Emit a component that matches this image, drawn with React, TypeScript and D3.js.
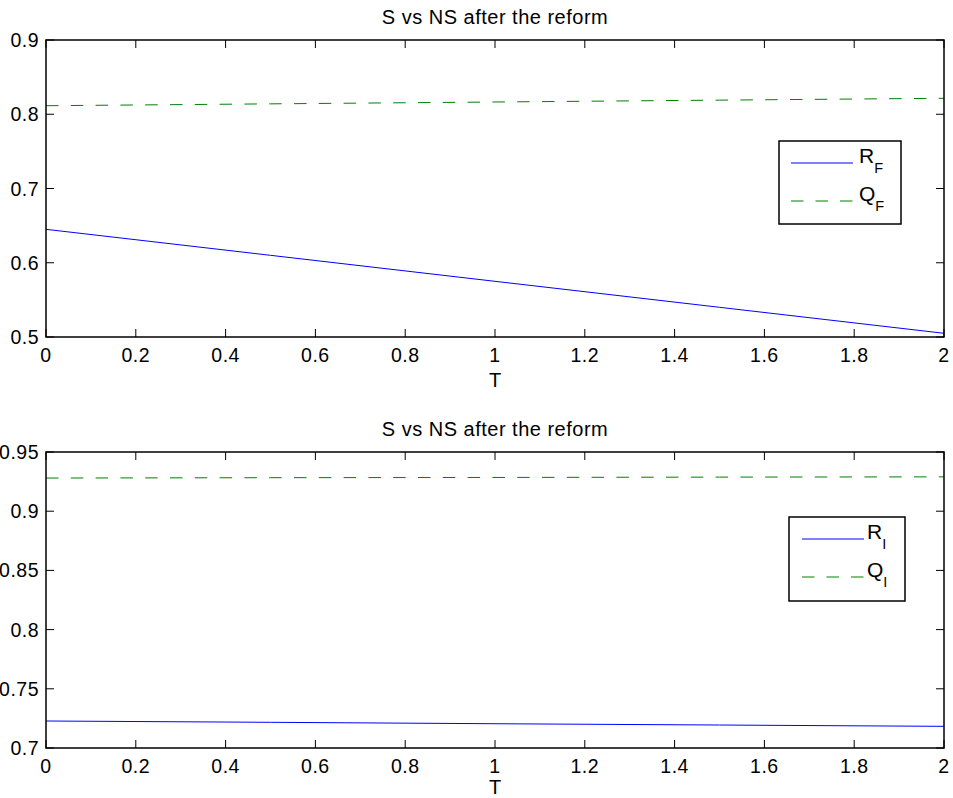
import React from "react";
import * as d3 from "d3";

const T = [0, 0.5, 1, 1.5, 2];
const R_F = [0.645, 0.61, 0.575, 0.54, 0.505];
const Q_F = [0.8115, 0.814, 0.8165, 0.819, 0.8215];
const R_I = [0.7228, 0.7217, 0.7205, 0.7194, 0.7183];
const Q_I = [0.928, 0.9283, 0.9285, 0.9288, 0.929];

const xTicks = [0, 0.2, 0.4, 0.6, 0.8, 1, 1.2, 1.4, 1.6, 1.8, 2];
const yTicksTop = [0.5, 0.6, 0.7, 0.8, 0.9];
const yTicksBottom = [0.7, 0.75, 0.8, 0.85, 0.9, 0.95];
const title = "S vs NS after the reform";
const xLabel = "T";

const FONT = "'Liberation Sans', Arial, Helvetica, sans-serif";
const BLUE = "#0000ff";
const GREEN = "#008000";

const fmt = (d: number) => String(Math.round(d * 100) / 100);

type PanelProps = {
  top: number;
  bottom: number;
  yDomain: [number, number];
  yTicks: number[];
  r: number[];
  q: number[];
  sub: string;
  xLabelDy: number;
  legend: { x0: number; y0: number; x1: number; y1: number; lx0: number; lx1: number; ry: number; qy: number; tx: number };
};

function Panel({ top, bottom, yDomain, yTicks, r, q, sub, xLabelDy, legend }: PanelProps) {
  const left = 46;
  const right = 944;
  const x = d3.scaleLinear().domain([0, 2]).range([left, right]);
  const y = d3.scaleLinear().domain(yDomain).range([bottom, top]);
  const line = d3
    .line<number>()
    .x((_, i) => x(T[i]))
    .y((d) => y(d));
  const tl = 8;
  return (
    <g>
      <rect x={left} y={top} width={right - left} height={bottom - top} fill="white" />
      {xTicks.map((t) => (
        <g key={"x" + t}>
          <line x1={x(t)} x2={x(t)} y1={bottom} y2={bottom - tl} stroke="black" strokeWidth={1} />
          <line x1={x(t)} x2={x(t)} y1={top} y2={top + tl} stroke="black" strokeWidth={1} />
          <text x={x(t)} y={bottom + 25} textAnchor="middle" fontSize={19.5} letterSpacing={0.5} fontFamily={FONT}>
            {fmt(t)}
          </text>
        </g>
      ))}
      {yTicks.map((t) => (
        <g key={"y" + t}>
          <line x1={left} x2={left + tl} y1={y(t)} y2={y(t)} stroke="black" strokeWidth={1} />
          <line x1={right} x2={right - tl} y1={y(t)} y2={y(t)} stroke="black" strokeWidth={1} />
          <text x={39} y={y(t) + 7} textAnchor="end" fontSize={19.5} letterSpacing={0.5} fontFamily={FONT}>
            {fmt(t)}
          </text>
        </g>
      ))}
      <path d={line(q) || ""} fill="none" stroke={GREEN} strokeWidth={1} strokeDasharray="12.5,12.3" />
      <path d={line(r) || ""} fill="none" stroke={BLUE} strokeWidth={1} />
      <rect x={left} y={top} width={right - left} height={bottom - top} fill="none" stroke="black" strokeWidth={1.5} />
      <text x={(left + right) / 2} y={top - 16} textAnchor="middle" fontSize={20} letterSpacing={0.5} fontFamily={FONT}>
        {title}
      </text>
      <text x={(left + right) / 2} y={bottom + xLabelDy} textAnchor="middle" fontSize={20} fontFamily={FONT}>
        {xLabel}
      </text>
      <rect
        x={legend.x0}
        y={legend.y0}
        width={legend.x1 - legend.x0}
        height={legend.y1 - legend.y0}
        fill="white"
        stroke="black"
        strokeWidth={1.5}
      />
      <line x1={legend.lx0} x2={legend.lx1} y1={legend.ry} y2={legend.ry} stroke={BLUE} strokeWidth={1} />
      <line
        x1={legend.lx0}
        x2={legend.lx1}
        y1={legend.qy}
        y2={legend.qy}
        stroke={GREEN}
        strokeWidth={1}
        strokeDasharray="12.5,12"
      />
      <text x={legend.tx} y={legend.ry} fontSize={21} fontFamily={FONT}>
        R
        <tspan fontSize={14.5} dy={10}>
          {sub}
        </tspan>
      </text>
      <text x={legend.tx} y={legend.qy} fontSize={21} fontFamily={FONT}>
        Q
        <tspan fontSize={14.5} dy={10}>
          {sub}
        </tspan>
      </text>
    </g>
  );
}

export default function App() {
  return (
    <svg
      width={953}
      height={798}
      style={{ position: "absolute", left: 0, top: 0, background: "white" }}
    >
      <rect x={0} y={0} width={953} height={798} fill="white" />
      <Panel
        top={40}
        bottom={337}
        yDomain={[0.5, 0.9]}
        yTicks={yTicksTop}
        r={R_F}
        q={Q_F}
        sub="F"
        xLabelDy={50}
        legend={{ x0: 779, y0: 141, x1: 901, y1: 224, lx0: 791, lx1: 853, ry: 163, qy: 201, tx: 859 }}
      />
      <Panel
        top={452}
        bottom={748}
        yDomain={[0.7, 0.95]}
        yTicks={yTicksBottom}
        r={R_I}
        q={Q_I}
        sub="I"
        xLabelDy={46}
        legend={{ x0: 789, y0: 517, x1: 905, y1: 601, lx0: 802, lx1: 864, ry: 539, qy: 577, tx: 867 }}
      />
    </svg>
  );
}
